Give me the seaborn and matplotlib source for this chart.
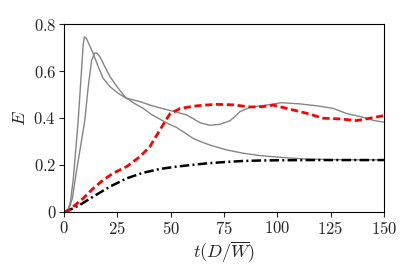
import numpy as np
import pandas as pd
import seaborn as sns
import matplotlib
matplotlib.use("Agg")
import matplotlib.pyplot as plt

# gray curve A (sharp early peak, stays high)
ta = [0, 1.5, 3, 4.4, 5.5, 6.7, 7.5, 8.3, 9.0, 9.6, 10.5, 12.2, 13.7, 16.1, 18.4, 21.6, 25.5, 29.0,
      35.6, 40.3, 45, 49.7, 52.8, 57.5, 61, 63.8, 68.4, 73.1, 77.8, 80, 82.5, 87.2, 95, 102,
      110.6, 118.4, 126.2, 132.5, 140.3, 145, 150]
ea = [0, 0.0, 0.04, 0.14, 0.26, 0.39, 0.50, 0.61, 0.71, 0.745, 0.74, 0.705, 0.675, 0.618, 0.569,
      0.533, 0.505, 0.485, 0.47, 0.455, 0.443, 0.432, 0.425, 0.413, 0.395, 0.38, 0.369, 0.373,
      0.388, 0.405, 0.427, 0.445, 0.455, 0.465, 0.46, 0.452, 0.441, 0.419, 0.403, 0.39, 0.382]

# gray curve B (later peak, decays to plateau)
tb = [0, 2, 4, 6, 8, 9.8, 11.4, 13, 14.5, 15.5, 16.9, 19.2, 21.6, 25.5, 29.0, 33, 37.2, 41, 45,
      49.7, 52.8, 56.5, 60.6, 64.5, 68.4, 76.3, 84, 91.9, 101, 112, 125, 140, 150]
eb = [0, 0.0, 0.06, 0.18, 0.29, 0.39, 0.533, 0.645, 0.677, 0.676, 0.661, 0.618, 0.576, 0.526,
      0.487, 0.462, 0.441, 0.415, 0.395, 0.372, 0.36, 0.338, 0.313, 0.298, 0.285, 0.264, 0.25,
      0.24, 0.233, 0.226, 0.223, 0.222, 0.222]

# red dashed curve
tr = [0, 2, 4.4, 9, 13.7, 18.4, 23.1, 29.4, 35.6, 40.3, 45, 49.7, 54.4, 60.6, 66, 71.6, 79.4,
      87.2, 93, 98.1, 104.4, 113.8, 121.6, 129.4, 137.2, 143.4, 150]
er = [0, 0.005, 0.023, 0.058, 0.1, 0.136, 0.165, 0.193, 0.235, 0.278, 0.349, 0.418, 0.44, 0.45,
      0.455, 0.458, 0.456, 0.447, 0.448, 0.455, 0.441, 0.42, 0.399, 0.396, 0.389, 0.399, 0.41]

# black dash-dot curve
tk = [0, 3, 7.5, 13.7, 21.6, 29.4, 37.2, 45, 52.8, 60.6, 68.4, 76.3, 84, 91.9, 100, 115, 130, 150]
ek = [0, 0.01, 0.03, 0.065, 0.108, 0.143, 0.167, 0.183, 0.193, 0.201, 0.208, 0.213, 0.217,
      0.219, 0.22, 0.221, 0.221, 0.221]

xticks = [0, 25, 50, 75, 100, 125, 150]
yticks = [0, 0.2, 0.4, 0.6, 0.8]
ytick_labels = ["$0$", "$0.2$", "$0.4$", "$0.6$", "$0.8$"]

sns.set_style("white")
plt.rcParams["font.family"] = "serif"
plt.rcParams["font.serif"] = ["cmr10", "DejaVu Serif"]
plt.rcParams["mathtext.fontset"] = "cm"
plt.rcParams["axes.unicode_minus"] = False

fig = plt.figure(figsize=(4.15, 2.76), dpi=100)
ax = fig.add_axes([0.154, 0.232, 0.771, 0.681])

gray = "#858585"
sns.lineplot(x=ta, y=ea, ax=ax, color=gray, lw=1.0, sort=False)
sns.lineplot(x=tb, y=eb, ax=ax, color=gray, lw=1.0, sort=False)
sns.lineplot(x=tk, y=ek, ax=ax, color="black", lw=1.8, sort=False, linestyle=(0, (3.8, 1.3, 0.8, 1.3)))
sns.lineplot(x=tr, y=er, ax=ax, color="red", lw=2.0, sort=False, linestyle=(0, (2.6, 1.3)))

ax.set_xlim(0, 150)
ax.set_ylim(0, 0.8)
ax.set_xticks(xticks)
ax.set_xticklabels([f"${v}$" for v in xticks])
ax.set_yticks(yticks)
ax.set_yticklabels(ytick_labels)
ax.tick_params(axis="both", labelsize=12, length=3.5, width=0.8, direction="out",
               bottom=True, left=True, top=False, right=False, pad=2)
for s in ax.spines.values():
    s.set_color("black")
    s.set_linewidth(0.8)

ax.set_xlabel(r"$t(D/\overline{W})$", fontsize=13, labelpad=2)
ax.set_ylabel(r"$E$", fontsize=13, labelpad=4)

fig.savefig("out.png", dpi=100)
